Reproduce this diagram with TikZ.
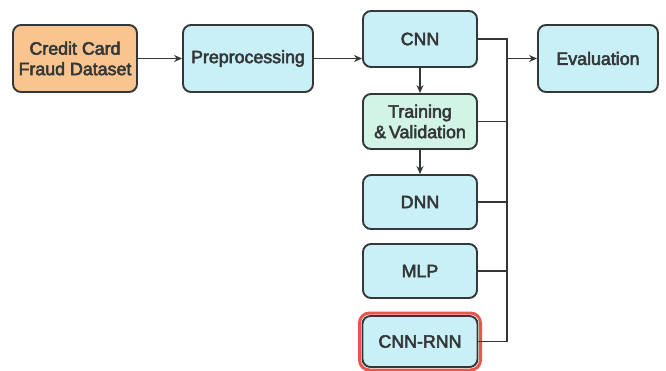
\documentclass[tikz,border=0pt]{standalone}
\usepackage{fontspec}
\setmainfont{Liberation Sans}
\newfontfamily\boxfont{Liberation Sans}[FakeBold=3]
\usetikzlibrary{arrows.meta}
\definecolor{boxline}{HTML}{333738}
\definecolor{orangefill}{HTML}{F9C48E}
\definecolor{bluefill}{HTML}{C9F0F6}
\definecolor{mintfill}{HTML}{D2F4E6}
\definecolor{redline}{HTML}{E8564C}
\begin{document}
\begin{tikzpicture}[x=1pt,y=-1pt,
  box/.style={draw=boxline, line width=1.9pt, rounded corners=8pt, align=center,
    font=\boxfont\fontsize{17.8}{20.5}\selectfont, text=boxline, inner sep=0pt},
  conn/.style={draw=boxline, line width=1.5pt},
  arr/.style={conn, -{Stealth[length=8pt,width=7pt]}}]
\useasboundingbox (0,0) rectangle (666,370);
\node[box, fill=orangefill, minimum width=124pt, minimum height=67pt] (data) at (75,58.5) {Credit Card\\Fraud Dataset};
\node[box, fill=bluefill, minimum width=130pt, minimum height=67pt] (prep) at (248,58.5) {Preprocessing};
\node[box, fill=bluefill, minimum width=114pt, minimum height=56pt] (cnn) at (420,39) {CNN};
\node[box, fill=mintfill, minimum width=114pt, minimum height=55pt] (train) at (420,121.5) {Training\\\&\,Validation};
\node[box, fill=bluefill, minimum width=114pt, minimum height=54pt] (dnn) at (420,202) {DNN};
\node[box, fill=bluefill, minimum width=114pt, minimum height=54pt] (mlp) at (420,271) {MLP};
\draw[redline, line width=3pt, rounded corners=10pt] (359.5,313) rectangle (480.5,370);
\node[box, fill=bluefill, minimum width=115pt, minimum height=51pt] (rnn) at (420,341.5) {CNN-RNN};
\node[box, fill=bluefill, minimum width=120pt, minimum height=67pt] (eval) at (598,58.5) {Evaluation};
\coordinate (bustop) at (507,39);
\coordinate (busbot) at (507,341.5);
\draw[arr] (data.east) -- (prep.west);
\draw[arr] (prep.east) -- (prep.east -| cnn.west);
\draw[arr] (cnn.south) -- (train.north);
\draw[arr] (train.south) -- (dnn.north);
\draw[conn] (cnn.east) -- (bustop) -- (busbot) -- (rnn.east);
\draw[conn] (train.east) -- (train.east -| bustop);
\draw[conn] (dnn.east) -- (dnn.east -| bustop);
\draw[conn] (mlp.east) -- (mlp.east -| bustop);
\draw[arr] (eval.west -| bustop) -- (eval.west);
\end{tikzpicture}
\end{document}
